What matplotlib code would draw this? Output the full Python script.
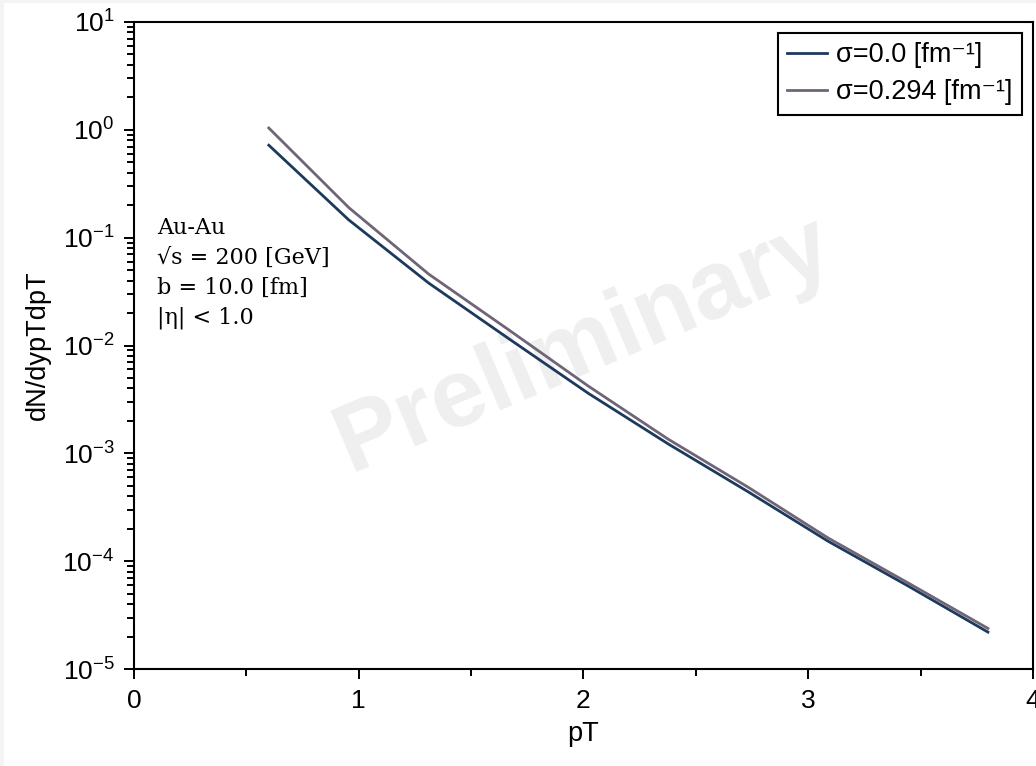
import numpy as np
import matplotlib
matplotlib.use("Agg")
import matplotlib.pyplot as plt
from matplotlib.patches import Rectangle
from matplotlib.ticker import LogLocator, MultipleLocator

# pT bins and spectra
pt = [0.6, 0.956, 1.311, 1.667, 2.022, 2.378, 2.733, 3.089, 3.444, 3.8]
spec_s0 = [0.72, 0.146, 0.038, 0.0116, 0.0036, 0.00122, 4.4e-4, 1.53e-4, 5.9e-5, 2.2e-5]
spec_s294 = [1.04, 0.19, 0.046, 0.014, 0.0042, 0.00135, 4.85e-4, 1.64e-4, 6.3e-5, 2.38e-5]
labels = ["σ=0.0 [fm⁻¹]", "σ=0.294 [fm⁻¹]"]
colors = ["#1b3a5c", "#6f6577"]
info = ["Au-Au", "√s = 200 [GeV]", "b = 10.0 [fm]", "|η| < 1.0"]

plt.rcParams['font.family'] = ['Liberation Sans', 'DejaVu Sans']
plt.rcParams['mathtext.fontset'] = 'custom'
plt.rcParams['mathtext.rm'] = 'Liberation Sans'
plt.rcParams['mathtext.it'] = 'Liberation Sans:italic'
plt.rcParams['mathtext.bf'] = 'Liberation Sans:bold'

fig = plt.figure(figsize=(10.36, 7.66), dpi=100)
fig.patch.set_facecolor("#f4f4f4")
fig.patches.append(Rectangle((4 / 1036, 0), 1, 1 - 3 / 766, transform=fig.transFigure,
                             facecolor="white", edgecolor="none", zorder=-10))
ax = fig.add_axes([0.1293, 0.1266, 0.8677, 0.8447])

ax.plot(pt, spec_s0, color=colors[0], lw=2, label=labels[0], zorder=3)
ax.plot(pt, spec_s294, color=colors[1], lw=2, label=labels[1], zorder=3)

ax.set_yscale("log")
ax.set_xlim(0, 4)
ax.set_ylim(1e-5, 1e1)
ax.xaxis.set_major_locator(MultipleLocator(1))
ax.xaxis.set_minor_locator(MultipleLocator(0.5))
ax.yaxis.set_major_locator(LogLocator(base=10, numticks=10))
ax.yaxis.set_minor_locator(LogLocator(base=10, subs=np.arange(2, 10), numticks=20))
ax.tick_params(which="major", direction="out", length=7.5, width=1.4, labelsize=19)
ax.tick_params(axis="y", which="major", pad=6.5)
ax.tick_params(axis="x", which="major", pad=7)
ax.tick_params(which="minor", direction="out", length=5, width=1.4)
for s in ax.spines.values():
    s.set_linewidth(1.5)

ax.set_xlabel("pT", fontsize=19.5, labelpad=6)
ax.set_ylabel("dN/dypTdpT", fontsize=19.5, labelpad=8)

ax.text(0.5, 0.5, "Preliminary", transform=ax.transAxes, rotation=23,
        ha="center", va="center", fontsize=70, fontweight="bold",
        color="#efefef", zorder=0)

ax.text(0.026, 0.698, "\n".join(info), transform=ax.transAxes, ha="left", va="top",
        fontsize=16, family="DejaVu Serif", linespacing=1.45)

leg = ax.legend(loc="upper right", fontsize=19.5, frameon=True, fancybox=False,
                edgecolor="black", framealpha=1, handlelength=1.45,
                handletextpad=0.35, borderpad=0.35, labelspacing=0.4,
                borderaxespad=0.4)
leg.get_frame().set_linewidth(1.5)

fig.savefig("out.png", dpi=100)
